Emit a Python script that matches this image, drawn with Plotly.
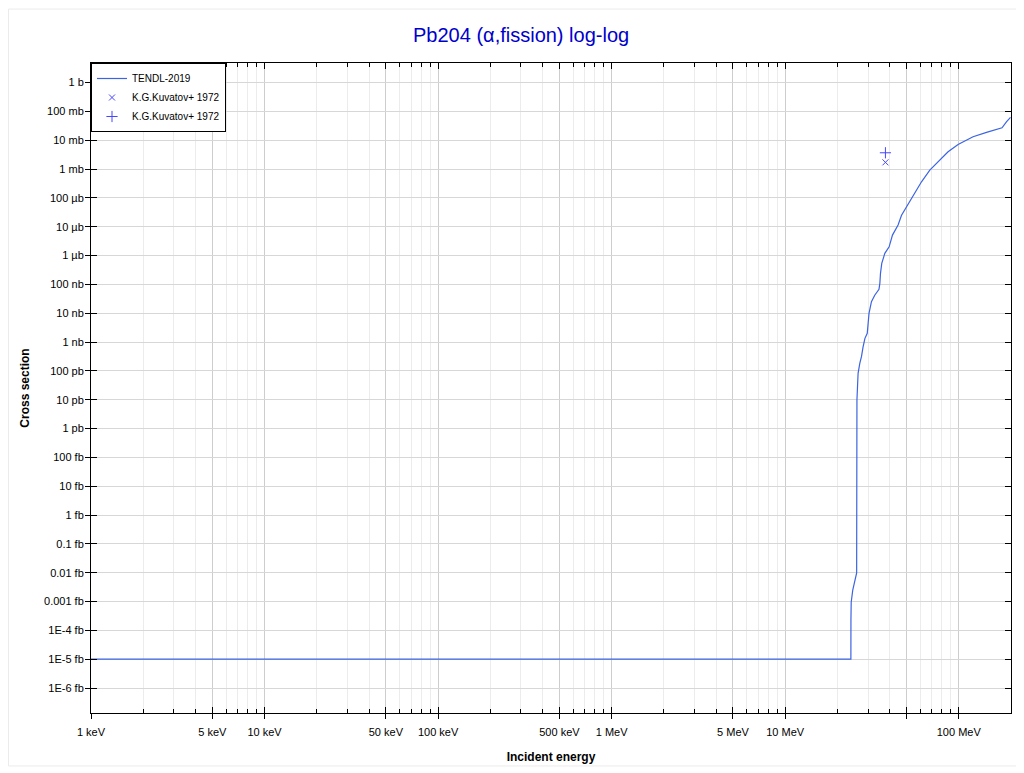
'''
    Pb204 (alpha,fission) cross section, log-log plot.
    TENDL-2019 evaluation with the two K.G.Kuvatov+ 1972 data points.
'''

import plotly.graph_objects as go

# TENDL-2019 curve: incident energy (MeV) and cross section (b)
tendl_energy = [0.001, 23.9, 23.92, 24.0, 24.5, 25.2, 25.8, 25.9, 26.3, 26.9,
                27.5, 28.1, 28.8, 29.7, 30.0, 30.4, 31.4, 32.8, 34.7, 35.1,
                35.4, 36.0, 37.5, 39.7, 41.5, 44.7, 46.8, 50.0, 54.6, 61.0,
                68.1, 77.8, 86.8, 99.1, 120.9, 144.5, 177.5, 188.2, 198.6]
tendl_xs = [1e-20, 1e-20, 2.3e-19, 9.5e-19, 2.5e-18, 5.6e-18, 9.8e-18, 9.7e-12,
            8.2e-11, 1.82e-10, 3.1e-10, 6.8e-10, 1.34e-9, 2.0e-9, 3.4e-9,
            9.8e-9, 2.5e-8, 4.2e-8, 6.7e-8, 1.08e-7, 2.4e-7, 5.3e-7, 1.19e-6,
            2.0e-6, 5.1e-6, 1.14e-5, 2.5e-5, 4.9e-5, 1.09e-4, 3.6e-4, 9.2e-4,
            2.0e-3, 3.95e-3, 7.1e-3, 0.0131, 0.0186, 0.0269, 0.0434, 0.0615]

# K.G.Kuvatov+ 1972 measurements (two sets)
kuvatov_x_energy = [37.8]
kuvatov_x_xs = [1.7e-3]
kuvatov_p_energy = [37.8]
kuvatov_p_xs = [3.65e-3]

# Axis ticks
x_major = [0.001, 0.005, 0.01, 0.05, 0.1, 0.5, 1, 5, 10, 50, 100]
x_labels = ['1 keV', '5 keV', '10 keV', '50 keV', '100 keV', '500 keV',
            '1 MeV', '5 MeV', '10 MeV', '', '100 MeV']
x_minor = [m * 10 ** d for d in range(-3, 3) for m in (2, 3, 4, 6, 7, 8, 9)]

y_major = [10.0 ** p for p in range(0, -22, -1)]
y_labels = ['1 b', '100 mb', '10 mb', '1 mb', '100 µb', '10 µb', '1 µb',
            '100 nb', '10 nb', '1 nb', '100 pb', '10 pb', '1 pb',
            '100 fb', '10 fb', '1 fb', '0.1 fb', '0.01 fb', '0.001 fb',
            '1E-4 fb', '1E-5 fb', '1E-6 fb']

X_RANGE = [-3, 2.301]
Y_RANGE = [-21.866, 0.676]

LINE_BLUE = 'rgb(60,100,225)'
MARK_BLUE = 'rgb(70,70,255)'
FONT = 'Liberation Sans, Arial, sans-serif'

fig = go.Figure()

fig.add_trace(go.Scatter(
    x=tendl_energy, y=tendl_xs, mode='lines', name='TENDL-2019',
    line=dict(color=LINE_BLUE, width=1.2),
))
fig.add_trace(go.Scatter(
    x=kuvatov_x_energy, y=kuvatov_x_xs, mode='markers',
    name='K.G.Kuvatov+ 1972',
    marker=dict(symbol='x-thin', size=6, line=dict(color=MARK_BLUE, width=1)),
))
fig.add_trace(go.Scatter(
    x=kuvatov_p_energy, y=kuvatov_p_xs, mode='markers',
    name='K.G.Kuvatov+ 1972',
    marker=dict(symbol='cross-thin', size=8, line=dict(color=MARK_BLUE, width=1)),
))

# dummy trace so the overlay axes (outer half of the major ticks) get drawn
fig.add_trace(go.Scatter(
    x=[1], y=[1], xaxis='x2', yaxis='y2', mode='markers',
    marker=dict(opacity=0), showlegend=False, hoverinfo='skip',
))

# the page adds an 8px body margin, so the figure is a little smaller
fig.update_layout(
    width=1016, height=765,
    margin=dict(l=83, r=13, t=55, b=60),
    paper_bgcolor='white', plot_bgcolor='white',
    font=dict(family=FONT, size=11, color='black'),
    title=dict(text='Pb204 (α,fission) log-log', x=0.505, xanchor='center',
               y=0.965, yanchor='middle',
               font=dict(family=FONT, size=20, color='rgb(0,0,205)')),
    showlegend=True,
    legend=dict(x=0, y=1, xanchor='left', yanchor='top',
                bordercolor='black', borderwidth=1, bgcolor='white',
                font=dict(family=FONT, size=10), tracegroupgap=0,
                itemwidth=30),
    xaxis=dict(
        type='log', range=X_RANGE, tickmode='array',
        tickvals=x_major, ticktext=x_labels,
        ticks='inside', ticklen=6, tickcolor='black',
        showline=True, linecolor='black', linewidth=1, mirror='ticks',
        showgrid=True, gridcolor='rgb(205,205,205)', gridwidth=1,
        minor=dict(tickmode='array', tickvals=x_minor, ticks='inside',
                   ticklen=4, tickcolor='black', showgrid=True,
                   gridcolor='rgb(236,236,236)'),
        ticklabelstandoff=9, zeroline=False, automargin=False,
        title=dict(text='<b>Incident energy</b>', standoff=15,
                   font=dict(family=FONT, size=12)),
    ),
    yaxis=dict(
        type='log', range=Y_RANGE, tickmode='array',
        tickvals=y_major, ticktext=y_labels,
        ticks='inside', ticklen=6, tickcolor='black',
        showline=True, linecolor='black', linewidth=1, mirror='ticks',
        showgrid=True, gridcolor='rgb(215,215,215)', gridwidth=1,
        ticklabelstandoff=4, zeroline=False, automargin=False,
        title=dict(text='<b>Cross section</b>', standoff=11,
                   font=dict(family=FONT, size=12)),
    ),
    xaxis2=dict(
        type='log', range=X_RANGE, overlaying='x', side='bottom', anchor='y2',
        tickmode='array', tickvals=x_major, ticks='outside', ticklen=5,
        tickcolor='black', showticklabels=False, showgrid=False,
        showline=False, zeroline=False, automargin=False,
    ),
    yaxis2=dict(
        type='log', range=Y_RANGE, overlaying='y', side='left', anchor='x2',
        tickmode='array', tickvals=y_major, ticks='outside', ticklen=5,
        tickcolor='black', showticklabels=False, showgrid=False,
        showline=False, zeroline=False, automargin=False,
    ),
)

# faint frame around the whole picture
fig.add_shape(type='rect', xref='paper', yref='paper',
              x0=-0.0897, x1=1.0065, y0=-0.0815, y1=1.083,
              line=dict(color='rgb(235,235,235)', width=1))

fig.write_html('out.html')
